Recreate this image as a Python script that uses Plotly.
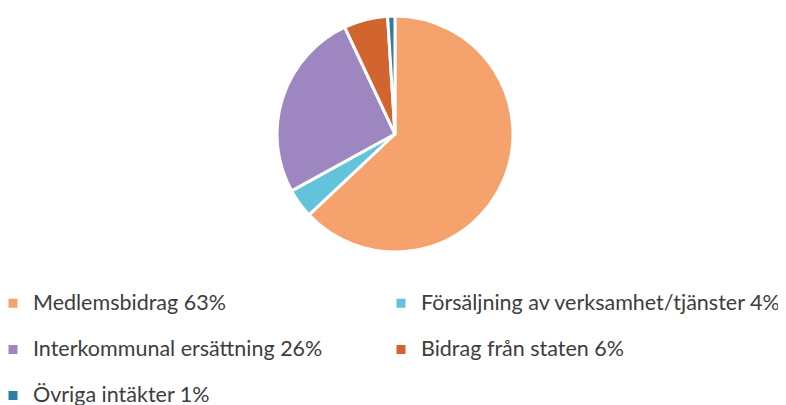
import plotly.graph_objects as go

# income split (percent)
labels = ['Medlemsbidrag', 'Försäljning av verksamhet/tjänster', 'Interkommunal ersättning',
          'Bidrag från staten', 'Övriga intäkter']
values = [63, 4, 26, 6, 1]
colors = ['#F6A26C', '#62C3DA', '#9E86C0', '#D2652F', '#2E7DA6']

# legend text: label + percentage, big span inside a smaller base font so rows get spaced out
# (last row kept single-line so the legend fits the page)
names = []
for i, (l, v) in enumerate(zip(labels, values)):
    txt = "<span style='font-size:21.5px'>%s %d%%</span>" % (l, v)
    if i < len(labels) - 1:
        txt += "<br> "
    names.append(txt)

fig = go.Figure(go.Pie(
    labels=names,
    values=values,
    sort=False,
    direction='clockwise',
    rotation=0,
    textinfo='none',
    hoverinfo='label+percent',
    marker=dict(colors=colors, line=dict(color='white', width=3)),
    domain=dict(x=[0.3422, 0.6425], y=[0.3975, 0.9802]),
))

fig.update_layout(
    width=786, height=405,
    margin=dict(l=0, r=0, t=0, b=0),
    paper_bgcolor='white',
    plot_bgcolor='white',
    font=dict(family='Lato, Open Sans, sans-serif', color='#3d3d3d'),
    legend=dict(
        orientation='h',
        x=0, xanchor='left',
        y=0, yanchor='bottom',
        font=dict(size=16.6, color='#3d3d3d'),
        valign='top',
        indentation=-15,
        entrywidth=358,
        traceorder='normal',
    ),
)

fig.write_html("out.html")
